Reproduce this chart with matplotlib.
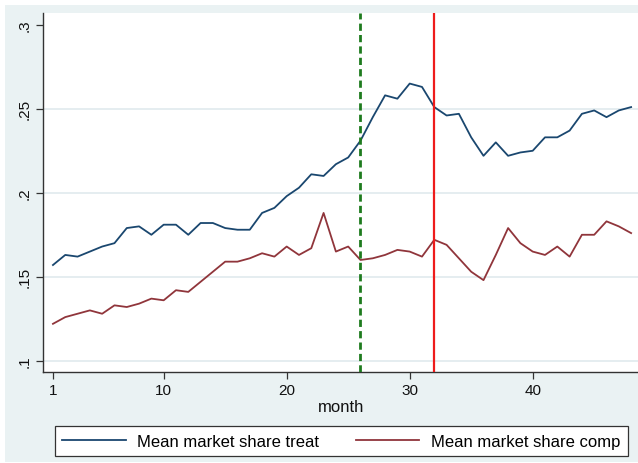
import numpy as np
import matplotlib.pyplot as plt
from matplotlib.patches import Rectangle

plt.rcParams['font.family'] = ['Liberation Sans', 'DejaVu Sans']

# monthly means
months = np.arange(1, 49)
treat = [0.157, 0.163, 0.162, 0.165, 0.168, 0.170, 0.179, 0.180, 0.175, 0.181,
         0.181, 0.175, 0.182, 0.182, 0.179, 0.178, 0.178, 0.188, 0.191, 0.198,
         0.203, 0.211, 0.210, 0.217, 0.221, 0.231, 0.245, 0.258, 0.256, 0.265,
         0.263, 0.251, 0.246, 0.247, 0.233, 0.222, 0.230, 0.222, 0.224, 0.225,
         0.233, 0.233, 0.237, 0.247, 0.249, 0.245, 0.249, 0.251]
comp = [0.122, 0.126, 0.128, 0.130, 0.128, 0.133, 0.132, 0.134, 0.137, 0.136,
        0.142, 0.141, 0.147, 0.153, 0.159, 0.159, 0.161, 0.164, 0.162, 0.168,
        0.163, 0.167, 0.188, 0.165, 0.168, 0.160, 0.161, 0.163, 0.166, 0.165,
        0.162, 0.172, 0.169, 0.161, 0.153, 0.148, 0.163, 0.179, 0.170, 0.165,
        0.163, 0.168, 0.162, 0.175, 0.175, 0.183, 0.180, 0.176]
labels = ['Mean market share treat', 'Mean market share comp']
event_dashed = 26
event_solid = 32
yticks = [0.1, 0.15, 0.2, 0.25, 0.3]
ytick_labels = ['.1', '.15', '.2', '.25', '.3']
xticks = [1, 10, 20, 30, 40]

W, H = 638, 464
fig = plt.figure(figsize=(W / 100, H / 100), dpi=100)
fig.patch.set_facecolor('white')
# stata-like graph region
fig.patches.append(Rectangle((5 / W, 1 / H), 1 - 5 / W, (463 - 6) / H,
                             transform=fig.transFigure, facecolor='#EAF2F3',
                             edgecolor='none', zorder=0))

ax = fig.add_axes([43 / W, 1 - 372.7 / H, 1 - 43 / W, (372.7 - 14) / H])
ax.set_facecolor('white')
ax.set_zorder(1)

for y in yticks[:-1]:
    ax.axhline(y, color='#E3ECEF', lw=1.3, zorder=1)

l1, = ax.plot(months, treat, color='#1A476F', lw=1.3, zorder=3)
l2, = ax.plot(months, comp, color='#90353B', lw=1.3, zorder=3)
ax.axvline(event_dashed, color='#1E7B1E', lw=2, ls=(0, (2.6, 1.5)), zorder=4)
ax.axvline(event_solid, color='#EE1C1C', lw=1.6, zorder=4)

ax.set_xlim(0.19, 48.56)
ax.set_ylim(0.0935, 0.307)
ax.set_xticks(xticks)
ax.set_yticks(yticks)
ax.set_yticklabels(ytick_labels, rotation=90, va='center')
ax.tick_params(axis='both', labelsize=11, length=5, width=0.9, color='#333333',
               labelcolor='#111111', pad=3)

for s in ['top', 'right']:
    ax.spines[s].set_visible(False)
for s in ['left', 'bottom']:
    ax.spines[s].set_color('#333333')
    ax.spines[s].set_linewidth(1.0)

fig.text(341 / W, 1 - 408 / H, 'month', ha='center', va='center', fontsize=12,
         color='#111111')

leg = fig.legend([l1, l2], labels, ncol=2, loc='center',
                 bbox_to_anchor=(341.5 / W, 1 - 442.2 / H),
                 fontsize=12, handlelength=3.8, handletextpad=0.7,
                 columnspacing=2.2, fancybox=False, framealpha=1,
                 edgecolor='#333333', borderpad=0.45)
leg.get_frame().set_linewidth(0.9)

fig.savefig('out.png', dpi=100)
